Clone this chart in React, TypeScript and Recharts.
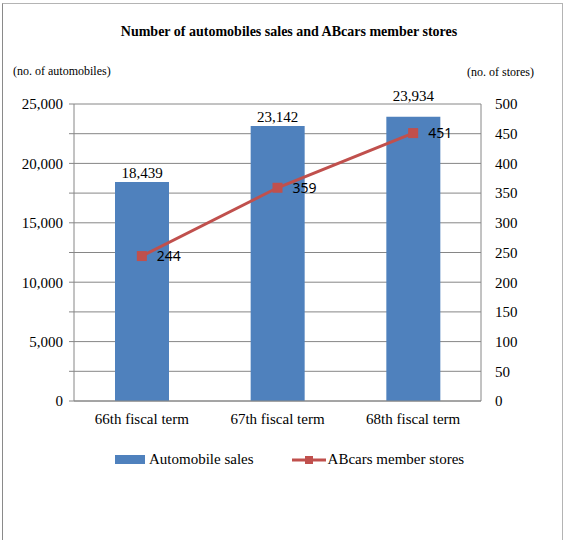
import React from 'react';
import { ComposedChart, Bar, Line, XAxis, YAxis, CartesianGrid, Legend, LabelList } from 'recharts';

const categories = ['66th fiscal term', '67th fiscal term', '68th fiscal term'];
const automobileSales = [18439, 23142, 23934];
const memberStores = [244, 359, 451];
const leftTicks = [0, 2500, 5000, 7500, 10000, 12500, 15000, 17500, 20000, 22500, 25000];
const rightTicks = [0, 50, 100, 150, 200, 250, 300, 350, 400, 450, 500];

const data = categories.map((c, i) => ({ name: c, sales: automobileSales[i], stores: memberStores[i] }));

const SERIF = "'Liberation Serif', 'Times New Roman', serif";
const BLUE = '#4F81BD';
const RED = '#C0504D';
const GRID = '#868686';

const fmt = (v: number) => v.toLocaleString('en-US');

const Square = (props: any) => {
  const { cx, cy } = props;
  if (cx == null || cy == null) return null;
  return <rect x={cx - 5} y={cy - 5} width={10} height={10} fill={RED} />;
};

// Bar value label; the last one sits lifted above the plot frame as in the source chart
const BarValueLabel = (props: any) => {
  const { x, y, width, value, index } = props;
  const lift = index === categories.length - 1 ? 16 : 4;
  return (
    <text x={Number(x) + Number(width) / 2} y={Number(y) - lift} textAnchor="middle" fill="#000" fontFamily={SERIF} fontSize={15}>
      {fmt(Number(value))}
    </text>
  );
};

const LegendContent = () => (
  <div style={{ display: 'flex', alignItems: 'center', paddingLeft: 115, fontFamily: SERIF, fontSize: 15, color: '#000' }}>
    <div style={{ display: 'flex', alignItems: 'center' }}>
      <span style={{ display: 'inline-block', width: 30, height: 9, background: BLUE, marginRight: 4 }} />
      <span>Automobile sales</span>
    </div>
    <div style={{ display: 'flex', alignItems: 'center', marginLeft: 38 }}>
      <svg width={34} height={12} style={{ marginRight: 2 }}>
        <line x1={0} y1={6} x2={34} y2={6} stroke={RED} strokeWidth={3} />
        <rect x={13} y={2} width={8} height={8} fill={RED} />
      </svg>
      <span>ABcars member stores</span>
    </div>
  </div>
);

export default function App() {
  return (
    <div style={{ position: 'absolute', left: 0, top: 0, width: 564, height: 540, background: '#fff', overflow: 'hidden' }}>
      <div style={{ position: 'absolute', left: 2, top: 3, width: 559, height: 560, borderLeft: '1px solid #8a8a8a', borderTop: '1px solid #b4b4b4', borderRight: '1px solid #b4b4b4' }} />
      <div style={{ position: 'absolute', left: 0, width: 578, top: 24, textAlign: 'center', fontFamily: SERIF, fontWeight: 'bold', fontSize: 14 }}>
        Number of automobiles sales and ABcars member stores
      </div>
      <div style={{ position: 'absolute', left: 13, top: 64, fontFamily: SERIF, fontSize: 12 }}>(no. of automobiles)</div>
      <div style={{ position: 'absolute', left: 467, top: 65, fontFamily: SERIF, fontSize: 12 }}>(no. of stores)</div>
      <div style={{ position: 'absolute', left: 0, top: 0 }}>
        <ComposedChart width={564} height={540} data={data} margin={{ top: 104, left: 14, right: 23, bottom: 92 }} barSize={54}>
          <CartesianGrid vertical={false} stroke={GRID} yAxisId="left" />
          <XAxis
            dataKey="name"
            tickLine={false}
            axisLine={{ stroke: GRID }}
            tickMargin={6}
            height={30}
            tick={{ fill: '#000', fontFamily: SERIF, fontSize: 15 }}
          />
          <YAxis
            yAxisId="left"
            orientation="left"
            width={60}
            domain={[0, 25000]}
            ticks={leftTicks}
            interval={0}
            tickSize={5}
            tickMargin={6}
            tickLine={{ stroke: GRID }}
            axisLine={{ stroke: GRID }}
            tickFormatter={(v: number) => (v % 5000 === 0 ? fmt(v) : '')}
            tick={{ fill: '#000', fontFamily: SERIF, fontSize: 15 }}
          />
          <YAxis
            yAxisId="right"
            orientation="right"
            width={60}
            domain={[0, 500]}
            ticks={rightTicks}
            interval={0}
            tickLine={false}
            tickSize={6}
            tickMargin={8}
            axisLine={{ stroke: GRID }}
            tick={{ fill: '#000', fontFamily: SERIF, fontSize: 15, textAnchor: 'start' }}
          />
          <Legend
            layout="vertical"
            align="center"
            verticalAlign="bottom"
            content={<LegendContent />}
            wrapperStyle={{ position: 'absolute', top: 451, left: 0, width: 564 }}
          />
          <Bar yAxisId="left" dataKey="sales" name="Automobile sales" fill={BLUE} isAnimationActive={false}>
            <LabelList dataKey="sales" content={<BarValueLabel />} />
          </Bar>
          <Line
            yAxisId="right"
            dataKey="stores"
            name="ABcars member stores"
            stroke={RED}
            strokeWidth={3}
            dot={<Square />}
            activeDot={false}
            isAnimationActive={false}
          >
            <LabelList dataKey="stores" position="right" offset={15} style={{ fill: '#000', fontFamily: "'Noto Sans', sans-serif", fontSize: 14 }} />
          </Line>
        </ComposedChart>
      </div>
    </div>
  );
}
